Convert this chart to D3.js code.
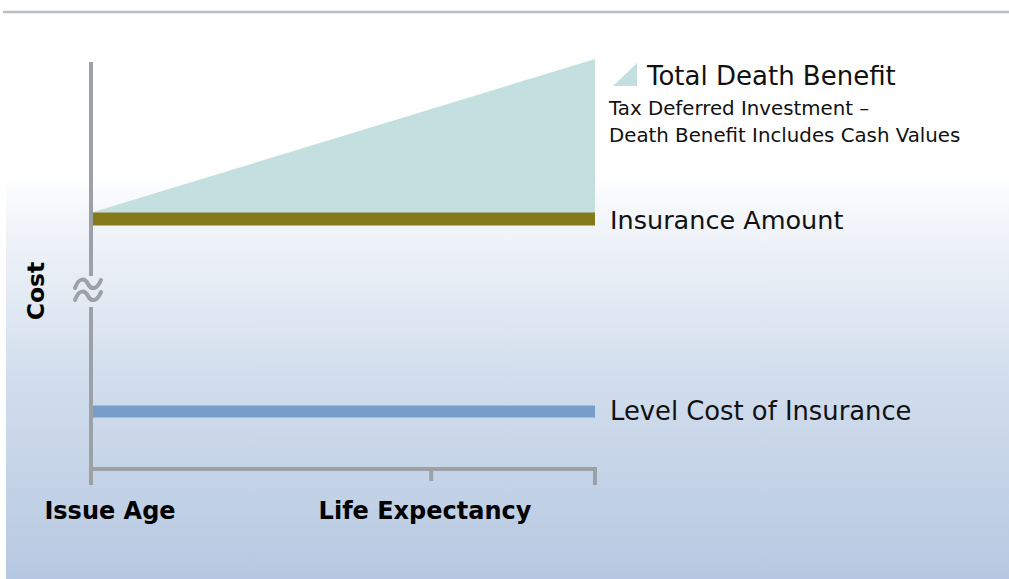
<!DOCTYPE html>
<html>
<head>
<meta charset="utf-8">
<script src="https://cdn.jsdelivr.net/npm/d3@7"></script>
<style>
    html, body { margin: 0; padding: 0; background: #ffffff; }
    #chart { width: 1009px; height: 579px; }
    svg { display: block; font-family: "DejaVu Sans", Verdana, sans-serif; }
</style>
</head>
<body>
<div id="chart"></div>
<script>
// Policy years on the x axis, cost units on the y axis
const xTickValues = [0, 27, 40];
const xTickLabels = ['Issue Age', 'Life Expectancy', ''];
const policyYears = [0, 40];
const insuranceAmount = [61, 61];
const deathBenefit = [62.5, 100];
const levelCost = [14, 14];
const seriesLabels = ['Total Death Benefit', 'Insurance Amount', 'Level Cost of Insurance'];
const noteLines = ['Tax Deferred Investment \u2013', 'Death Benefit Includes Cash Values'];

const colors = {
    benefit: '#c4dfe0',
    amount: '#857a1a',
    cost: '#779ecb',
    axis: '#9ba1a6'
};

function renderChart(container) {
    const width = 1009;
    const height = 579;

    const svg = d3.select(container).append('svg')
        .attr('width', width)
        .attr('height', height)
        .attr('viewBox', [0, 0, width, height]);

    // Background gradient panel
    const defs = svg.append('defs');
    const grad = defs.append('linearGradient')
        .attr('id', 'bg')
        .attr('x1', 0).attr('y1', 0)
        .attr('x2', 0).attr('y2', 1);
    [[0, '#ffffff'], [0.1, '#f3f6fa'], [0.5, '#d2deed'], [1, '#b6c8e1']].forEach(([o, c]) => {
        grad.append('stop').attr('offset', o).attr('stop-color', c);
    });

    svg.append('rect')
        .attr('x', 6)
        .attr('y', 176)
        .attr('width', width - 6)
        .attr('height', height - 176)
        .attr('fill', 'url(#bg)');

    // Thin rule at the top
    svg.append('line')
        .attr('x1', 3).attr('x2', width)
        .attr('y1', 12).attr('y2', 12)
        .attr('stroke', '#b9bec2')
        .attr('stroke-width', 2.5);

    const x = d3.scaleLinear()
        .domain([0, 40])
        .range([91, 595]);

    const y = d3.scaleLinear()
        .domain([0, 100])
        .range([469, 59]);

    const g = svg.append('g');

    // Total death benefit wedge
    const benefitData = policyYears.map((t, i) => ({ t, lo: insuranceAmount[i], hi: deathBenefit[i] }));
    g.append('path')
        .datum(benefitData)
        .attr('fill', colors.benefit)
        .attr('d', d3.area()
            .x(d => x(d.t))
            .y0(d => y(d.lo))
            .y1(d => y(d.hi)));

    // Flat bands
    const bandLine = d3.line()
        .x(d => x(d.t))
        .y(d => y(d.v));

    g.append('path')
        .datum(policyYears.map((t, i) => ({ t, v: insuranceAmount[i] })))
        .attr('fill', 'none')
        .attr('stroke', colors.amount)
        .attr('stroke-width', 13)
        .attr('d', bandLine);

    g.append('path')
        .datum(policyYears.map((t, i) => ({ t, v: levelCost[i] })))
        .attr('fill', 'none')
        .attr('stroke', colors.cost)
        .attr('stroke-width', 12)
        .attr('d', bandLine);

    // Axes
    const axis = svg.append('g')
        .attr('stroke', colors.axis)
        .attr('stroke-width', 4)
        .attr('fill', 'none');

    // y axis with a break
    axis.append('line')
        .attr('x1', x(0)).attr('x2', x(0))
        .attr('y1', 62).attr('y2', 276);
    axis.append('line')
        .attr('x1', x(0)).attr('x2', x(0))
        .attr('y1', 307).attr('y2', 485);

    // x axis
    axis.append('line')
        .attr('x1', x(0)).attr('x2', x(40) + 2)
        .attr('y1', y(0)).attr('y2', y(0));

    axis.selectAll('line.tick')
        .data(xTickValues)
        .join('line')
        .attr('class', 'tick')
        .attr('x1', d => x(d)).attr('x2', d => x(d))
        .attr('y1', y(0))
        .attr('y2', (d, i) => i === 1 ? 481 : 485);

    // Break mark (two waves)
    const bx = x(0) - 3;
    [284, 296].forEach(cy => {
        axis.append('path')
            .attr('stroke-width', 4)
            .attr('stroke-linecap', 'round')
            .attr('d', `M${bx - 13},${cy + 4} C${bx - 9},${cy - 7} ${bx - 3},${cy - 6} ${bx},${cy} S${bx + 9},${cy + 6} ${bx + 13},${cy - 4}`);
    });

    // Axis labels
    svg.selectAll('text.xlabel')
        .data(xTickValues.filter((d, i) => xTickLabels[i] !== ''))
        .join('text')
        .attr('class', 'xlabel')
        .attr('x', (d, i) => i === 0 ? 110 : 425)
        .attr('y', 519)
        .attr('text-anchor', 'middle')
        .style('font-size', '24px')
        .style('font-weight', 'bold')
        .style('fill', '#000')
        .text((d, i) => xTickLabels[i]);

    svg.append('text')
        .attr('transform', `translate(44, 291) rotate(-90)`)
        .attr('text-anchor', 'middle')
        .style('font-size', '23.5px')
        .style('font-weight', 'bold')
        .style('fill', '#000')
        .text('Cost');

    // Legend / series labels
    svg.append('path')
        .attr('fill', colors.benefit)
        .attr('d', 'M613,86 L637,63 L637,86 Z');

    svg.append('text')
        .attr('x', 647)
        .attr('y', 85)
        .style('font-size', '26px')
        .style('fill', '#111')
        .text(seriesLabels[0]);

    svg.selectAll('text.note')
        .data(noteLines)
        .join('text')
        .attr('class', 'note')
        .attr('x', 609)
        .attr('y', (d, i) => 115 + i * 27)
        .style('font-size', '19.8px')
        .style('fill', '#111')
        .text(d => d);

    svg.append('text')
        .attr('x', 610)
        .attr('y', y(insuranceAmount[1]) + 10.5)
        .style('font-size', '25.5px')
        .style('fill', '#111')
        .text(seriesLabels[1]);

    svg.append('text')
        .attr('x', 610)
        .attr('y', y(levelCost[1]) + 8.5)
        .style('font-size', '25.8px')
        .style('fill', '#111')
        .text(seriesLabels[2]);
}

renderChart(document.getElementById('chart'));
</script>
</body>
</html>
